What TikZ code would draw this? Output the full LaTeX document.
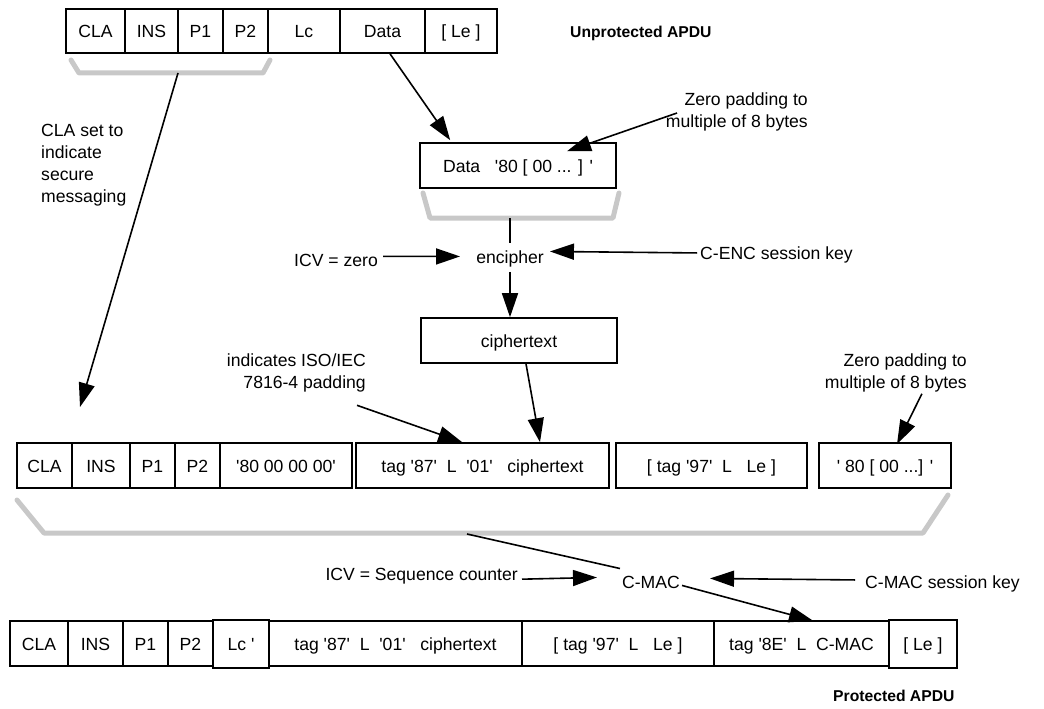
\documentclass[tikz,border=0pt]{standalone}
\usepackage{fontspec}
\setmainfont{Liberation Sans}
\usetikzlibrary{arrows.meta,calc}
\definecolor{bracketgray}{RGB}{200,200,200}
\newcommand\q{\textquotesingle}
\begin{document}
\begin{tikzpicture}[x=1pt,y=-1pt,
  every node/.style={font=\fontsize{17.6}{22}\selectfont, inner sep=0pt},
  cell/.style={draw, line width=1.6pt, minimum height=44pt, text height=13pt, text depth=0pt, anchor=center},
  arr/.style={line width=1.6pt, -{Triangle[length=24pt,width=16pt]}},
  brk/.style={draw=bracketgray, line width=5pt, line join=round, line cap=round},
  ln/.style={line width=1.6pt},
  boldlbl/.style={font=\fontsize{15.7}{18}\selectfont\bfseries}]
\useasboundingbox (0,0) rectangle (1044,709);

% ---- top row: unprotected APDU
\node[cell,minimum width=59] (tCLA) at (95.5,31) {CLA};
\node[cell,minimum width=53] (tINS) at (151.5,31) {INS};
\node[cell,minimum width=45] (tP1) at (200.5,31) {P1};
\node[cell,minimum width=45] (tP2) at (245.5,31) {P2};
\node[cell,minimum width=72] (tLc) at (304,31) {Lc};
\node[cell,minimum width=85] (tData) at (382.5,31) {Data};
\node[cell,minimum width=72] (tLe) at (461,31) {[ Le ]};
\node[boldlbl,anchor=base west] (unprot) at (570,38) {Unprotected APDU};

% ---- padded data / encipher / ciphertext
\node[cell,minimum width=196,minimum height=45] (pad) at (518,165.5) {Data~~~\q80 [ 00 ... ] \q};
\node[align=right,anchor=north east] (pad1) at (808,93) {Zero padding to\\multiple of 8 bytes};
\node[anchor=base] (enc) at (510,263) {encipher};
\node[anchor=base west] (icv0) at (294,266) {ICV = zero};
\node[anchor=base west] (cenc) at (700,259) {C-ENC session key};
\node[cell,minimum width=196,minimum height=45] (ct) at (519,340.5) {ciphertext};

\node[align=left,anchor=north west] (clalbl) at (41,124.5) {CLA set to\\indicate\\secure\\messaging};
\node[align=right,anchor=north east] (iso) at (366,354) {indicates ISO/IEC\\7816-4 padding};
\node[align=right,anchor=north east] (pad2) at (967,354) {Zero padding to\\multiple of 8 bytes};

% ---- middle row
\node[cell,minimum width=55,minimum height=45] (mCLA) at (44.5,465.5) {CLA};
\node[cell,minimum width=58,minimum height=45] (mINS) at (101,465.5) {INS};
\node[cell,minimum width=45,minimum height=45] (mP1) at (152.5,465.5) {P1};
\node[cell,minimum width=45,minimum height=45] (mP2) at (197.5,465.5) {P2};
\node[cell,minimum width=132,minimum height=45] (m80) at (286,465.5) {\q80 00 00 00\q};
\node[cell,minimum width=253,minimum height=45] (mTag87) at (482.5,465.5) {tag \q87\q~~L~~\q01\q~~~ciphertext};
\node[cell,minimum width=191,minimum height=45] (mTag97) at (711.5,465.5) {[ tag \q97\q~~L~~~Le ]};
\node[cell,minimum width=132,minimum height=45] (mPad) at (885,465.5) {\q{} 80 [ 00 ...] \q};

% ---- C-MAC
\node[anchor=base] (cmac) at (651,588) {C-MAC};
\node[anchor=base east] (icvs) at (518,580) {ICV = Sequence counter};
\node[anchor=base west] (cmk) at (865,588) {C-MAC session key};

% ---- bottom row: protected APDU
\node[cell,minimum width=58,minimum height=45] (bCLA) at (39,643.5) {CLA};
\node[cell,minimum width=55,minimum height=45] (bINS) at (95.5,643.5) {INS};
\node[cell,minimum width=45,minimum height=45] (bP1) at (145.5,643.5) {P1};
\node[cell,minimum width=45,minimum height=45] (bP2) at (190.5,643.5) {P2};
\node[cell,minimum width=56,minimum height=48] (bLc) at (241,644) {Lc \q};
\node[cell,minimum width=253,minimum height=45] (bTag87) at (395.5,643.5) {tag \q87\q~~L~~\q01\q~~~ciphertext};
\node[cell,minimum width=192,minimum height=45] (bTag97) at (618,643.5) {[ tag \q97\q~~L~~~Le ]};
\node[cell,minimum width=175,minimum height=45] (bTag8E) at (801.5,643.5) {tag \q8E\q~~L~~C-MAC};
\node[cell,minimum width=68,minimum height=48] (bLe) at (923,644) {[ Le ]};
\node[boldlbl,anchor=base west] (prot) at (833,701) {Protected APDU};

% ---- gray brackets
\draw[brk] (71,60) -- (79,73) -- (263,73) -- (270,60);
\coordinate (topBrk) at (178,73);
\draw[brk] (423,193) -- (430,218) -- (613,218) -- (619,193);
\coordinate (padBrk) at (510,218);
\draw[brk] (17,500) -- (44,533) -- (923,533) -- (948,495);
\coordinate (midBrk) at (467,534);
\coordinate (claTip) at (80,407);

% ---- connectors
\draw[arr] (topBrk) -- (claTip);
\draw[arr] ($(tData.south)+(7.5,0)$) -- ($(pad.north west)+(31,-2)$);
\draw[arr] ($(pad1.north east)+(-131,20)$) -- ($(pad.north)+(49,9)$);
\draw[ln] (padBrk) -- ($(enc.north)+(0,-7)$);
\draw[arr] ($(icv0.east)+(5,-3.5)$) -- ($(enc.west)+(-16,-2)$);
\draw[arr] ($(cenc.west)+(-3,-1.5)$) -- ($(enc.east)+(6,-7)$);
\draw[arr] ($(enc.south)+(0,5)$) -- (enc.south |- ct.north);
\draw[arr] ($(ct.south)+(7,0)$) -- ($(mTag87.north)+(57.5,0)$);
\draw[arr] ($(iso.south east)+(-9,12.5)$) -- ($(mTag87.north west)+(107,0)$);
\draw[arr] ($(pad2.south)+(26,1)$) -- ($(mPad.north)+(12,2)$);
\draw[ln] (midBrk) -- ($(cmac.north west)+(-2,-7)$);
\draw[arr] ($(icvs.east)+(4,3.5)$) -- ($(cmac.west)+(-25,-4.5)$);
\draw[arr] ($(cmk.west)+(-10,-3.5)$) -- ($(cmac.east)+(30,-3.5)$);
\draw[arr] ($(cmac.east)+(2,3.5)$) -- ($(bTag8E.north)+(11.5,0.5)$);
\end{tikzpicture}
\end{document}
